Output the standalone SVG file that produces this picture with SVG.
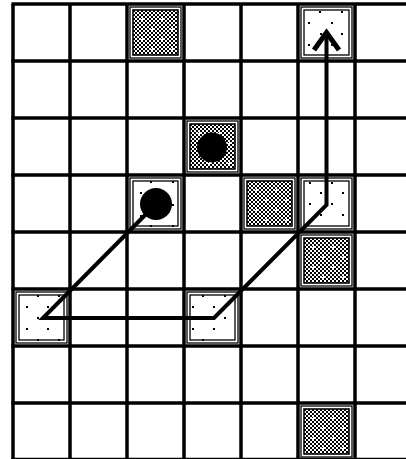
<svg xmlns="http://www.w3.org/2000/svg" xmlns:xlink="http://www.w3.org/1999/xlink" width="406" height="459" viewBox="0 0 406 459">
  <style>
    .grid line { stroke: #000; stroke-width: 3.5; }
    .frame { fill: #fff; stroke: #000; stroke-width: 1.3; }
    .inner { fill: #fff; stroke: #000; stroke-width: 1.3; }
    .chk { fill: url(#chkp); stroke: #000; stroke-width: 1.6; }
    .dot { fill: #000; }
    .ball { fill: #000; }
    .conn { fill: none; stroke: #000; stroke-width: 4; stroke-linejoin: miter; stroke-linecap: butt; }
    .head { fill: none; stroke: #000; stroke-width: 5; stroke-linejoin: miter; stroke-miterlimit: 10; }
  </style>
  <defs>
    <pattern id="chk" patternUnits="userSpaceOnUse" width="4" height="4">
      <rect width="4" height="4" fill="#fff"/>
      <rect x="0" y="0" width="2" height="2" fill="#000"/>
      <rect x="2" y="2" width="2" height="2" fill="#000"/>
    </pattern>
    <pattern id="chkp" patternUnits="userSpaceOnUse" width="20" height="20">
      <rect width="20" height="20" fill="url(#chk)"/>
      <path d="M3 5h5v1h-5zM5 3h1v5h-1zM13 15h5v1h-5zM15 13h1v5h-1z" fill="#fff"/>
    </pattern>
    <g id="checkTile">
      <rect class="frame" x="3" y="3" width="51" height="51"/>
      <rect class="chk" x="6" y="6" width="45" height="45"/>
    </g>
    <g id="dotTile">
      <rect class="frame" x="3" y="3" width="51" height="51"/>
      <rect class="inner" x="6" y="6" width="45" height="45"/>
    </g>
  </defs>

  <rect width="406" height="459" fill="#fff"/>

  <g class="grid" id="grid">
    <line x1="13" y1="4" x2="13" y2="461"/>
    <line x1="70" y1="4" x2="70" y2="461"/>
    <line x1="127" y1="4" x2="127" y2="461"/>
    <line x1="184" y1="4" x2="184" y2="461"/>
    <line x1="241" y1="4" x2="241" y2="461"/>
    <line x1="298" y1="4" x2="298" y2="461"/>
    <line x1="355" y1="4" x2="355" y2="461"/>
    <line x1="11.5" y1="4" x2="406" y2="4"/>
    <line x1="11.5" y1="61" x2="406" y2="61"/>
    <line x1="11.5" y1="118" x2="406" y2="118"/>
    <line x1="11.5" y1="175" x2="406" y2="175"/>
    <line x1="11.5" y1="232" x2="406" y2="232"/>
    <line x1="11.5" y1="289" x2="406" y2="289"/>
    <line x1="11.5" y1="346" x2="406" y2="346"/>
    <line x1="11.5" y1="403" x2="406" y2="403"/>
    <line x1="11.5" y1="459.5" x2="406" y2="459.5"/>
  </g>

  <!-- checker tiles -->
  <g id="tile-c2-r0" transform="translate(127,4)"><use xlink:href="#checkTile"/></g>
  <g id="tile-c3-r2" transform="translate(184,118)">
    <use xlink:href="#checkTile"/>
    <circle class="ball" cx="28" cy="29.5" r="15"/>
  </g>
  <g id="tile-c4-r3" transform="translate(241,175)"><use xlink:href="#checkTile"/></g>
  <g id="tile-c5-r4" transform="translate(298,232)"><use xlink:href="#checkTile"/></g>
  <g id="tile-c5-r7" transform="translate(298,403)"><use xlink:href="#checkTile"/></g>

  <!-- dotted tiles -->
  <g id="tile-c5-r0" transform="translate(298,4)">
    <use xlink:href="#dotTile"/>
    <g class="dot">
      <rect x="21" y="7" width="2" height="2"/><rect x="43" y="7" width="2" height="2"/>
      <rect x="10" y="18" width="2" height="2"/><rect x="33" y="18" width="2" height="2"/>
      <rect x="22" y="29" width="2" height="2"/><rect x="43" y="29" width="2" height="2"/>
      <rect x="10" y="40" width="2" height="2"/><rect x="33" y="40" width="2" height="2"/>
    </g>
  </g>
  <g id="tile-c2-r3" transform="translate(127,175)">
    <use xlink:href="#dotTile"/>
    <g class="dot">
      <rect x="23" y="6" width="2" height="2"/><rect x="45" y="6" width="2" height="2"/>
      <rect x="13" y="17" width="2" height="2"/><rect x="45" y="29" width="2" height="2"/>
      <rect x="13" y="40" width="2" height="2"/>
      <rect x="23" y="50" width="2" height="2"/><rect x="45" y="50" width="2" height="2"/>
    </g>
    <circle class="ball" cx="29" cy="29" r="16"/>
  </g>
  <g id="tile-c5-r3" transform="translate(298,175)">
    <use xlink:href="#dotTile"/>
    <g class="dot">
      <rect x="11" y="7" width="2" height="2"/><rect x="33" y="7" width="2" height="2"/>
      <rect x="22" y="17" width="2" height="2"/><rect x="44" y="17" width="2" height="2"/>
      <rect x="11" y="28" width="2" height="2"/><rect x="33" y="28" width="2" height="2"/>
      <rect x="22" y="39" width="2" height="2"/><rect x="44" y="39" width="2" height="2"/>
    </g>
  </g>
  <g id="tile-c0-r5" transform="translate(13,289)">
    <use xlink:href="#dotTile"/>
    <g class="dot">
      <rect x="24" y="6" width="2" height="2"/><rect x="45" y="6" width="2" height="2"/>
      <rect x="13" y="17" width="2" height="2"/><rect x="34" y="17" width="2" height="2"/>
      <rect x="24" y="28" width="2" height="2"/>
      <rect x="13" y="39" width="2" height="2"/><rect x="34" y="39" width="2" height="2"/>
      <rect x="24" y="50" width="2" height="2"/><rect x="45" y="50" width="2" height="2"/>
    </g>
  </g>
  <g id="tile-c3-r5" transform="translate(184,289)">
    <use xlink:href="#dotTile"/>
    <g class="dot">
      <rect x="18" y="6" width="2" height="2"/><rect x="40" y="6" width="2" height="2"/>
      <rect x="8" y="17" width="2" height="2"/><rect x="29" y="17" width="2" height="2"/>
      <rect x="40" y="28" width="2" height="2"/>
      <rect x="8" y="39" width="2" height="2"/><rect x="29" y="39" width="2" height="2"/>
      <rect x="18" y="50" width="2" height="2"/>
    </g>
  </g>

  <g id="connectors">
    <path class="conn" d="M156 204 L43 318 L214 318 L326.5 205 L326.5 36"/>
    <path class="head" d="M314 50 L326.5 32.5 L339 50"/>
  </g>
</svg>
